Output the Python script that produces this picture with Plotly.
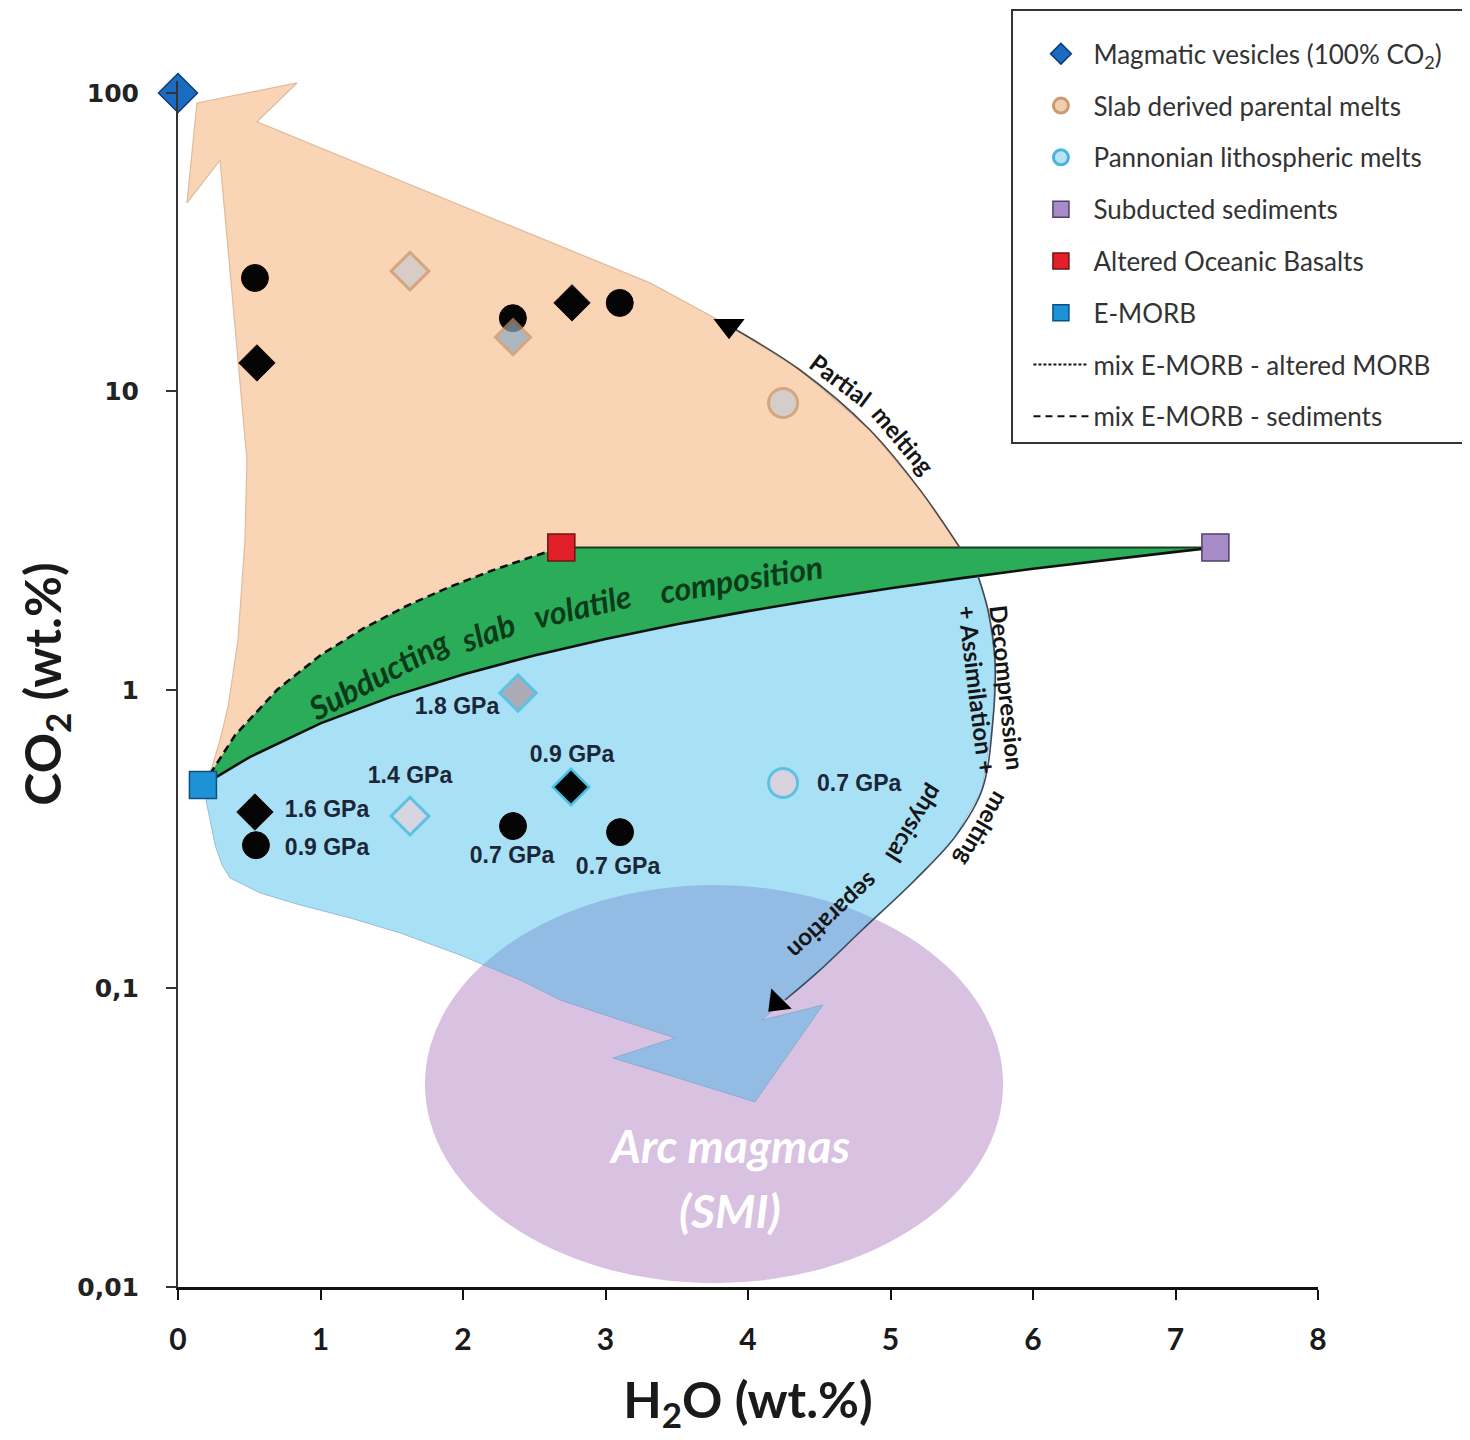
import numpy as np
import plotly.graph_objects as go

# ---------------- data (H2O wt.%, CO2 wt.%) ----------------
# end-members
vesicle_h2o, vesicle_co2 = [0.0], [100.0]
emorb_h2o, emorb_co2 = [0.175], [0.48]
aob_h2o, aob_co2 = [2.69], [3.0]
sed_h2o, sed_co2 = [7.28], [3.0]

# black symbols, upper field
blk_circ_up_h2o = [0.54, 2.35, 3.10]
blk_circ_up_co2 = [24.0, 17.6, 19.8]
blk_dia_up_h2o = [0.554, 2.765]
blk_dia_up_co2 = [12.46, 19.8]

# slab derived parental melts
slab_h2o = [1.628, 2.351, 4.246]
slab_co2 = [25.3, 15.2, 9.15]
slab_sym = ["diamond", "diamond", "circle"]
slab_fill = ["#c9c9ce", "#8eaac4", "#c6cbd4"]

# black symbols, lower field
blk_circ_lo_h2o = [0.547, 2.351, 3.102]
blk_circ_lo_co2 = [0.302, 0.350, 0.334]
blk_dia_lo_h2o = [0.540, 2.758]
blk_dia_lo_co2 = [0.390, 0.473]

# Pannonian lithospheric melts
pann_h2o = [2.386, 1.628, 4.246]
pann_co2 = [0.977, 0.378, 0.488]
pann_sym = ["diamond", "diamond", "circle"]
pann_fill = ["#ae949e", "#ead3da", "#ebcdd5"]

# pressure labels
gpa_text = ["1.8 GPa", "0.9 GPa", "1.4 GPa", "1.6 GPa", "0.9 GPa", "0.7 GPa", "0.7 GPa", "0.7 GPa"]
gpa_h2o = [1.958, 2.765, 1.628, 1.046, 1.046, 2.344, 3.088, 4.78]
gpa_co2 = [0.870, 0.601, 0.511, 0.393, 0.293, 0.276, 0.253, 0.481]

# mixing curves
mix_aob_h2o = [0.175, 0.4, 0.7, 1.0, 1.3, 1.6, 1.9, 2.2, 2.5, 2.69]
mix_aob_co2 = [0.48, 0.705, 1.006, 1.307, 1.607, 1.908, 2.208, 2.509, 2.81, 3.0]
mix_sed_h2o = [0.175, 0.5, 1.0, 1.5, 2.0, 2.5, 3.0, 3.5, 4.0, 4.5, 5.0, 5.5, 6.0, 6.5, 7.0, 7.28]
mix_sed_co2 = [0.48, 0.595, 0.773, 0.950, 1.127, 1.305, 1.482, 1.659, 1.837, 2.014, 2.191, 2.369, 2.546, 2.723, 2.901, 3.0]

# outline of the slab-melt (peach) field, E-MORB -> arrow -> partial-melting arc
peach_h2o = [0.175, 0.239, 0.295, 0.351, 0.421, 0.470, 0.484, 0.295, 0.063, 0.133, 0.835, 0.554,
             3.312, 3.867, 4.365, 4.856, 5.207, 5.488, 5.614]
peach_co2 = [0.48, 0.552, 0.680, 0.877, 1.47, 3.18, 5.90, 59.6, 42.8, 92.6, 108.0, 80.0,
             23.1, 16.6, 11.8, 7.43, 4.68, 2.99, 2.41]
# outline of the lithospheric (blue) field, decompression arc -> arrow -> E-MORB
blue_h2o = [5.614, 5.684, 5.733, 5.719, 5.642, 5.453, 5.172, 4.800, 4.491, 4.260, 4.098, 4.526,
            4.049, 3.053, 3.488, 3.102, 2.681, 2.400, 1.979, 1.558, 1.207, 0.856, 0.575, 0.365,
            0.309, 0.260, 0.225, 0.196]
blue_co2 = [2.41, 1.853, 1.26, 0.793, 0.462, 0.322, 0.231, 0.157, 0.1136, 0.0915, 0.0784, 0.0881,
            0.0417, 0.0585, 0.0683, 0.0784, 0.0915, 0.1068, 0.1295, 0.1535, 0.1723, 0.1904, 0.209,
            0.2346, 0.2593, 0.3024, 0.3668, 0.438]

# arc magma (SMI) ellipse extent
arc_h2o = [1.733, 5.79]
arc_co2 = [0.0103, 0.222]

# rotated labels
rot_text = ["Subducting", "slab", "volatile", "composition",
            "Partial", "melting",
            "Decompression", "melting", "+ Assimilation +", "physical", "separation"]
rot_h2o = [1.404, 2.175, 2.842, 3.950, 4.646, 5.088, 5.818, 5.642, 5.607, 5.17, 4.596]
rot_co2 = [1.131, 1.564, 1.912, 2.36, 10.93, 6.88, 1.016, 0.340, 1.0, 0.356, 0.1736]
rot_ang = [-28, -20, -13, -9, 37, 50, 84, 120, 83, 122, 137]

x_ticks = [0, 1, 2, 3, 4, 5, 6, 7, 8]
y_ticks = [0.01, 0.1, 1, 10, 100]
y_ticktext = ["0,01", "0,1", "1", "10", "100"]

Y_RANGE = [-2, 2.04]

# ---------------- figure ----------------
fig = go.Figure()

nsed = [i for i, v in enumerate(mix_sed_h2o) if v < peach_h2o[-1]]
low_x = [mix_sed_h2o[i] for i in nsed]
low_y = [mix_sed_co2[i] for i in nsed]

# peach field
fig.add_trace(go.Scatter(x=peach_h2o + low_x[::-1], y=peach_co2 + low_y[::-1], mode="lines",
                         fill="toself", fillcolor="#f9d4b5", line=dict(color="#dfbb9f", width=1.2),
                         showlegend=False, hoverinfo="skip"))
# blue field
fig.add_trace(go.Scatter(x=low_x + blue_h2o + [low_x[0]], y=low_y + blue_co2 + [low_y[0]], mode="lines",
                         fill="toself", fillcolor="rgba(48,181,231,0.42)",
                         line=dict(color="rgba(120,160,190,0.6)", width=1),
                         showlegend=False, hoverinfo="skip"))
# green band
fig.add_trace(go.Scatter(x=mix_aob_h2o + sed_h2o + mix_sed_h2o[::-1],
                         y=mix_aob_co2 + sed_co2 + mix_sed_co2[::-1], mode="lines",
                         fill="toself", fillcolor="#2bac58", line=dict(width=0),
                         showlegend=False, hoverinfo="skip"))
# top line of band
fig.add_trace(go.Scatter(x=aob_h2o + sed_h2o, y=aob_co2 + sed_co2, mode="lines",
                         line=dict(color="#1d3a22", width=2), showlegend=False, hoverinfo="skip"))
# mixing curves
fig.add_trace(go.Scatter(x=mix_aob_h2o, y=mix_aob_co2, mode="lines",
                         line=dict(color="#111", width=2.6, dash="8px,5px"),
                         showlegend=False, hoverinfo="skip"))
fig.add_trace(go.Scatter(x=mix_sed_h2o, y=mix_sed_co2, mode="lines",
                         line=dict(color="#111", width=2.6),
                         showlegend=False, hoverinfo="skip"))

# partial melting arc + decompression arc
fig.add_trace(go.Scatter(x=peach_h2o[13:18], y=peach_co2[13:18], mode="lines", line_shape="spline",
                         line=dict(color="#4a4a4a", width=1.6), showlegend=False, hoverinfo="skip"))
fig.add_trace(go.Scatter(x=blue_h2o[0:10], y=blue_co2[0:10], mode="lines", line_shape="spline",
                         line=dict(color="#3a4a5a", width=1.6), showlegend=False, hoverinfo="skip"))
# arrow heads
fig.add_trace(go.Scatter(x=[peach_h2o[13]], y=[peach_co2[13]], mode="markers",
                         marker=dict(symbol="triangle-down", size=27, color="black", line=dict(width=0)),
                         showlegend=False, hoverinfo="skip", cliponaxis=False))
fig.add_trace(go.Scatter(x=[4.204], y=[0.0894], mode="markers",
                         marker=dict(symbol="triangle-down", size=25, angle=45, color="black", line=dict(width=0)),
                         showlegend=False, hoverinfo="skip", cliponaxis=False))

# markers
blk_line = dict(color="#1a0505", width=1)
fig.add_trace(go.Scatter(x=blk_circ_up_h2o + blk_circ_lo_h2o, y=blk_circ_up_co2 + blk_circ_lo_co2,
                         mode="markers", marker=dict(symbol="circle", size=27, color="#050505", line=blk_line),
                         showlegend=False, cliponaxis=False))
fig.add_trace(go.Scatter(x=blk_dia_up_h2o + blk_dia_lo_h2o, y=blk_dia_up_co2 + blk_dia_lo_co2,
                         mode="markers",
                         marker=dict(symbol="diamond", size=28, color="#050505",
                                     line=dict(color=["#1a0505", "#1a0505", "#1a0505", "#45c3e6"],
                                               width=[1, 1, 1, 2.5])),
                         showlegend=False, cliponaxis=False))
fig.add_trace(go.Scatter(x=slab_h2o, y=slab_co2, mode="markers",
                         marker=dict(symbol=slab_sym, size=[29, 27, 29], color=slab_fill,
                                     line=dict(color="#c79269", width=3)),
                         showlegend=False, cliponaxis=False))
fig.add_trace(go.Scatter(x=pann_h2o, y=pann_co2, mode="markers",
                         marker=dict(symbol=pann_sym, size=[28, 29, 29], color=pann_fill,
                                     line=dict(color="#3db5dc", width=3)),
                         showlegend=False, cliponaxis=False))

# end-members (also legend entries)
fig.add_trace(go.Scatter(x=vesicle_h2o, y=vesicle_co2, mode="markers", name="Magmatic vesicles (100% CO<sub>2</sub>)",
                         legendgroup="g1", legendrank=1,
                         marker=dict(symbol="diamond", size=30, color="#1b6cc1", line=dict(color="#0c3c78", width=1.5)),
                         cliponaxis=False))
fig.add_trace(go.Scatter(x=[None], y=[None], mode="markers", name="Slab derived parental melts",
                         legendgroup="g2", legendrank=2,
                         marker=dict(symbol="circle", size=15, color="#efcfb0", line=dict(color="#cc9a70", width=3))))
fig.add_trace(go.Scatter(x=[None], y=[None], mode="markers", name="Pannonian lithospheric melts",
                         legendgroup="g3", legendrank=3,
                         marker=dict(symbol="circle", size=15, color="#b8e4f5", line=dict(color="#48b4e0", width=3))))
fig.add_trace(go.Scatter(x=sed_h2o, y=sed_co2, mode="markers", name="Subducted sediments",
                         legendgroup="g4", legendrank=4,
                         marker=dict(symbol="square", size=27, color="#a88bc9", line=dict(color="#4f4068", width=1.5)),
                         cliponaxis=False))
fig.add_trace(go.Scatter(x=aob_h2o, y=aob_co2, mode="markers", name="Altered Oceanic Basalts",
                         legendgroup="g5", legendrank=5,
                         marker=dict(symbol="square", size=27, color="#e2202a", line=dict(color="#6e1414", width=1.5)),
                         cliponaxis=False))
fig.add_trace(go.Scatter(x=emorb_h2o, y=emorb_co2, mode="markers", name="E-MORB",
                         legendgroup="g6", legendrank=6,
                         marker=dict(symbol="square", size=27, color="#1e92d6", line=dict(color="#0d4f80", width=1.5)),
                         cliponaxis=False))
fig.add_trace(go.Scatter(x=[None], y=[None], mode="lines", name="mix E-MORB - altered MORB",
                         legendgroup="g7", legendrank=7, line=dict(color="#111", width=2, dash="3px,2px")))
fig.add_trace(go.Scatter(x=[None], y=[None], mode="lines", name="mix E-MORB - sediments",
                         legendgroup="g8", legendrank=8, line=dict(color="#111", width=2, dash="7px,5px")))

# pressure labels
fig.add_trace(go.Scatter(x=gpa_h2o, y=gpa_co2, mode="text", text=gpa_text, textposition="middle center",
                         textfont=dict(family="Liberation Sans", size=23, color="#1b2636", weight="bold"),
                         showlegend=False, hoverinfo="skip", cliponaxis=False))

# rotated labels
for i, t in enumerate(rot_text):
    if i < 4:
        f = dict(family="Lato", size=32, color="#0b3a1b", weight="bold", style="italic")
    else:
        f = dict(family="Lato", size=24, color="#151515", weight="bold")
    fig.add_annotation(x=rot_h2o[i], y=np.log10(rot_co2[i]), xref="x", yref="y", text=t,
                       textangle=rot_ang[i], showarrow=False, font=f)

# arc magma text
fig.add_annotation(x=3.874, y=np.log10(0.0299), xref="x", yref="y", text="Arc magmas", showarrow=False,
                   font=dict(family="Lato", size=46, color="white", weight="bold", style="italic"))
fig.add_annotation(x=3.874, y=np.log10(0.01811), xref="x", yref="y", text="(SMI)", showarrow=False,
                   font=dict(family="Lato", size=46, color="white", weight="bold", style="italic"))

# ellipse (vertical extent expressed as a fraction of the log axis)
span = Y_RANGE[1] - Y_RANGE[0]
fig.add_shape(type="circle", xref="x", yref="paper", x0=arc_h2o[0], x1=arc_h2o[1],
              y0=(np.log10(arc_co2[0]) - Y_RANGE[0]) / span, y1=(np.log10(arc_co2[1]) - Y_RANGE[0]) / span,
              fillcolor="#d9c1e1", line=dict(width=0), layer="below")
# legend frame
fig.add_shape(type="rect", xref="paper", yref="paper", x0=0.7316, x1=1.1316, y0=0.6998, y1=1.0589,
              line=dict(color="#333", width=2), fillcolor="rgba(0,0,0,0)", layer="above")

fig.update_layout(
    width=1462, height=1432,
    margin=dict(l=170, r=152, t=73, b=153),
    paper_bgcolor="white", plot_bgcolor="rgba(0,0,0,0)",
    showlegend=True,
    legend=dict(x=0.746, y=1.042, xanchor="left", yanchor="top", bgcolor="rgba(0,0,0,0)",
                borderwidth=0, tracegroupgap=15, itemwidth=55,
                font=dict(family="Lato", size=26, color="#333")),
    xaxis=dict(range=[0, 8], showline=True, linecolor="#111", linewidth=3, ticks="outside",
               ticklen=10, tickwidth=2, tickcolor="#111", tickvals=x_ticks, showgrid=False, zeroline=False,
               tickfont=dict(family="Lato", size=30, color="#1a1a1a", weight="bold"),
               ticklabelstandoff=14,
               title=dict(text="H<sub>2</sub>O (wt.%)", standoff=28,
                          font=dict(family="Lato", size=50, color="#1a1a1a", weight="bold"))),
    yaxis=dict(type="log", range=Y_RANGE, showline=True, linecolor="#333", linewidth=2, ticks="outside",
               ticklen=10, tickwidth=2, tickcolor="#333", tickvals=y_ticks, ticktext=y_ticktext,
               showgrid=False, zeroline=False,
               tickfont=dict(family="DejaVu Sans", size=25, color="#222", weight="bold"),
               ticklabelstandoff=22,
               title=dict(text="CO<sub>2</sub> (wt.%)", standoff=0,
                          font=dict(family="Lato", size=50, color="#1a1a1a", weight="bold"))),
)

fig.write_html("out.html")
